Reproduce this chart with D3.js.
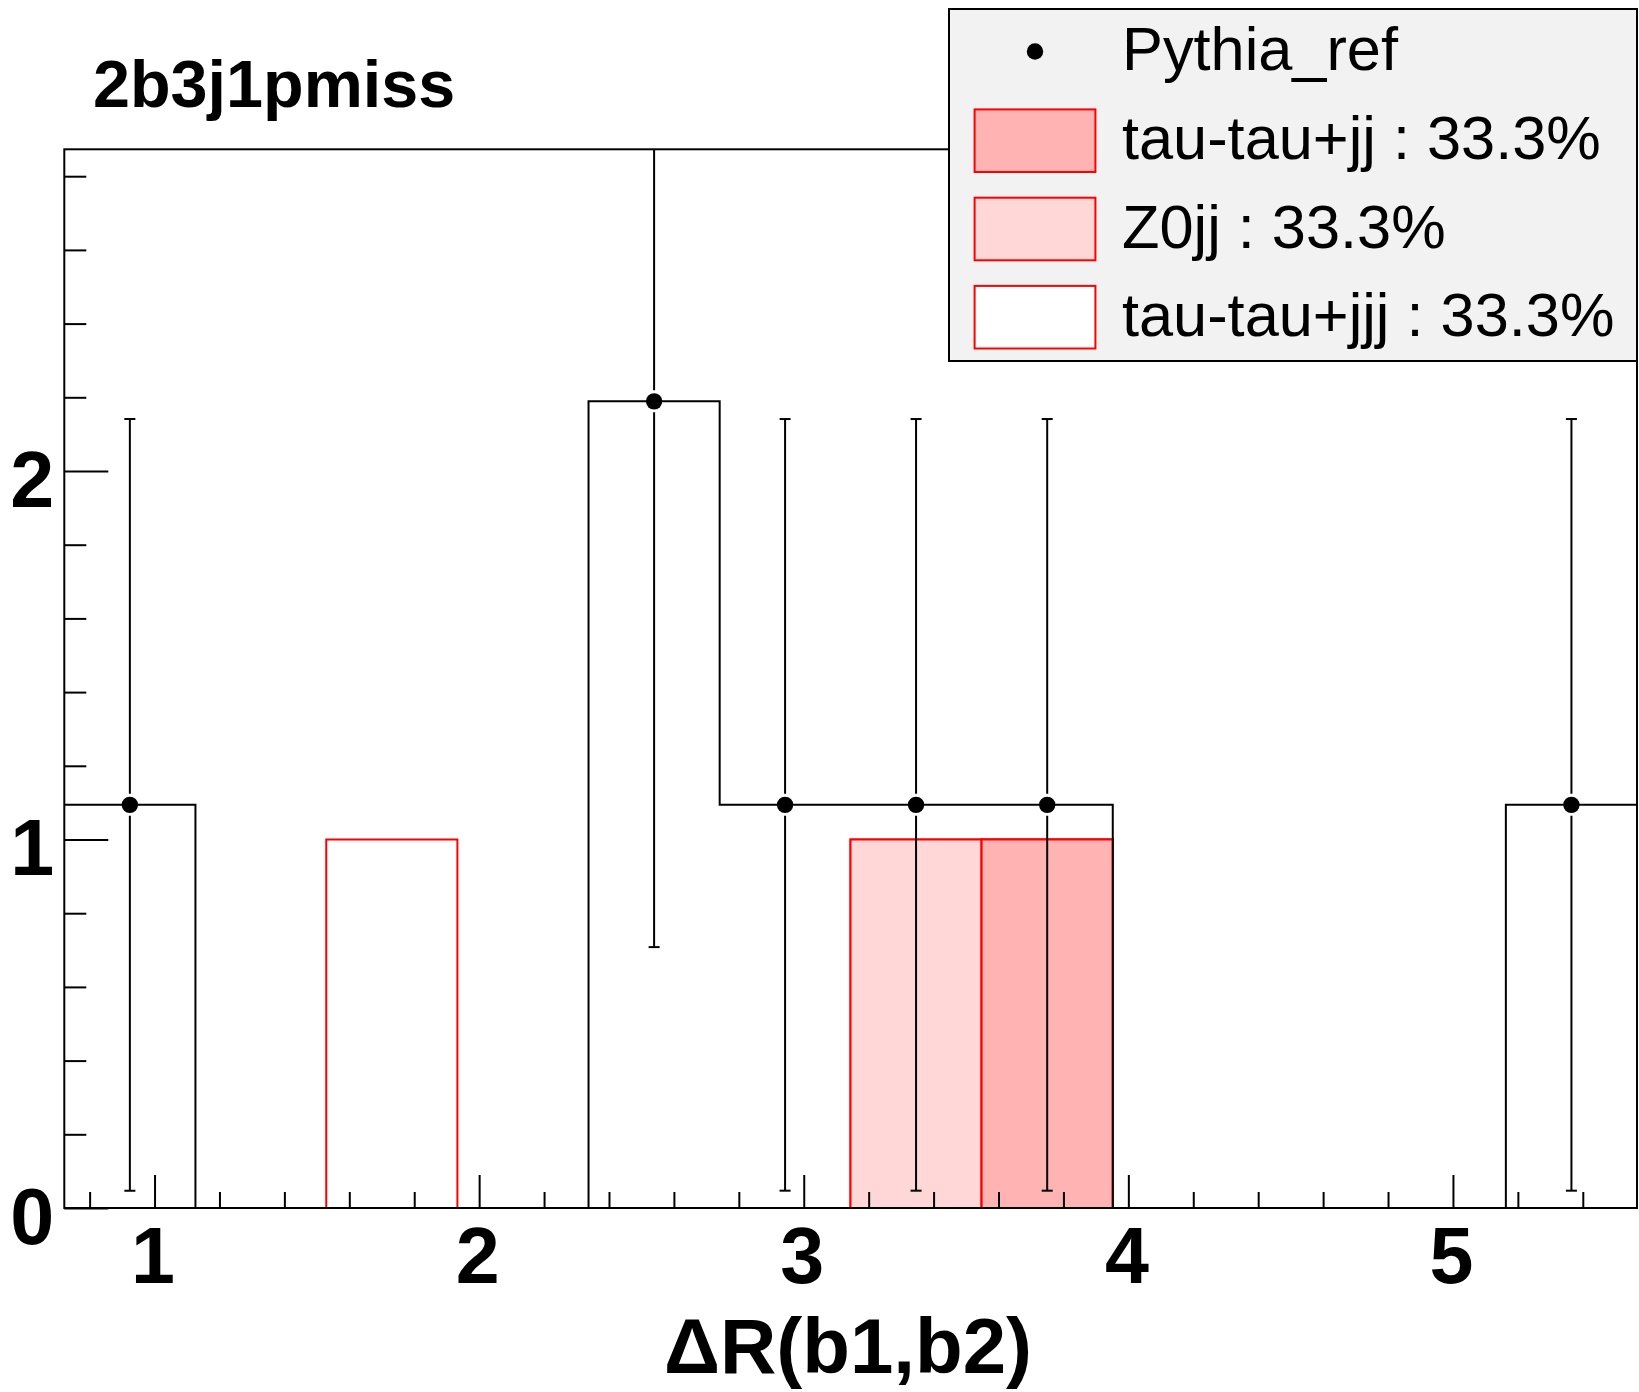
<!DOCTYPE html>
<html>
<head>
<meta charset="utf-8">
<script src="https://cdn.jsdelivr.net/npm/d3@7"></script>
<style>
  html, body { margin: 0; padding: 0; background: #fff; }
  svg { display: block; }
  text { font-family: "Liberation Sans", Arial, Helvetica, sans-serif; }
</style>
</head>
<body>
<svg id="chart" width="1639" height="1392"></svg>
<script>
// ---------------- data ----------------
const title = "2b3j1pmiss";
const xTitle = "\u0394R(b1,b2)";
const binEdges = [0.722, 1.126, 1.529, 1.933, 2.337, 2.741, 3.144, 3.548, 3.952, 4.356, 4.759, 5.163, 5.567];
const pythiaValues = [1.094, 0, 0, 0, 2.189, 1.094, 1.094, 1.094, 0, 0, 0, 1.094];
const pythiaErrors = [1.047, 0, 0, 0, 1.481, 1.047, 1.047, 1.047, 0, 0, 0, 1.047];
const tautaujj  = [0, 0, 0, 0, 0, 0, 0, 1, 0, 0, 0, 0];
const z0jj      = [0, 0, 0, 0, 0, 0, 1, 0, 0, 0, 0, 0];
const tautaujjj = [0, 0, 1, 0, 0, 0, 0, 0, 0, 0, 0, 0];
const yDomain = [0, 2.873];
const xMajorTicks = [1, 2, 3, 4, 5];
const xMinorTicks = [0.8, 1.2, 1.4, 1.6, 1.8, 2.2, 2.4, 2.6, 2.8, 3.2, 3.4, 3.6, 3.8, 4.2, 4.4, 4.6, 4.8, 5.2, 5.4];
const yMajorTicks = [0, 1, 2];
const yMinorTicks = [0.2, 0.4, 0.6, 0.8, 1.2, 1.4, 1.6, 1.8, 2.2, 2.4, 2.6, 2.8];
const legendEntries = [
  { label: "Pythia_ref", type: "marker" },
  { label: "tau-tau+jj : 33.3%", type: "box", fill: "#ffb3b3" },
  { label: "Z0jj : 33.3%", type: "box", fill: "#ffd7d7" },
  { label: "tau-tau+jjj : 33.3%", type: "box", fill: "#ffffff" }
];
const stackSeries = [
  { name: "tau-tau+jj", values: tautaujj, fill: "#ffb3b3" },
  { name: "Z0jj", values: z0jj, fill: "#ffd7d7" },
  { name: "tau-tau+jjj", values: tautaujjj, fill: "#ffffff" }
];

// ---------------- layout ----------------
const L = 64.3, R = 1637, T = 149.3, B = 1208;
const svg = d3.select("#chart");
const x = d3.scaleLinear().domain([binEdges[0], binEdges[binEdges.length - 1]]).range([L, R]);
const y = d3.scaleLinear().domain(yDomain).range([B, T]);

const plot = svg.append("g");
svg.append("defs").append("clipPath").attr("id", "clip")
  .append("rect").attr("x", L).attr("y", T).attr("width", R - L).attr("height", B - T);

// ---------------- stacked histograms ----------------
const nb = binEdges.length - 1;
const cum = stackSeries.map(() => new Array(nb).fill(0));
for (let b = 0; b < nb; b++) {
  let s = 0;
  for (let i = 0; i < stackSeries.length; i++) {
    s += stackSeries[i].values[b];
    cum[i][b] = s;
  }
}
for (let i = stackSeries.length - 1; i >= 0; i--) {
  const bars = d3.range(nb).filter(b => cum[i][b] > 0);
  plot.append("g").selectAll("rect").data(bars).join("rect")
    .attr("x", b => x(binEdges[b]))
    .attr("y", b => y(cum[i][b]))
    .attr("width", b => x(binEdges[b + 1]) - x(binEdges[b]))
    .attr("height", b => y(0) - y(cum[i][b]))
    .attr("fill", stackSeries[i].fill)
    .attr("stroke", "#ff0000")
    .attr("stroke-width", 2);
}

// ---------------- reference histogram (step line) ----------------
const stepPts = [];
for (let b = 0; b < nb; b++) {
  stepPts.push([x(binEdges[b]), y(pythiaValues[b])]);
  stepPts.push([x(binEdges[b + 1]), y(pythiaValues[b])]);
}
plot.append("path")
  .attr("d", d3.line()(stepPts))
  .attr("fill", "none")
  .attr("stroke", "#000")
  .attr("stroke-width", 2)
  .attr("clip-path", "url(#clip)");

// ---------------- error bars + markers ----------------
const pts = d3.range(nb).filter(b => pythiaValues[b] > 0);
const eb = plot.append("g").attr("clip-path", "url(#clip)");
const gap = 11;
pts.forEach(b => {
  const cx = x((binEdges[b] + binEdges[b + 1]) / 2);
  const cy = y(pythiaValues[b]);
  const yHi = y(pythiaValues[b] + pythiaErrors[b]);
  const yLo = y(Math.max(0, pythiaValues[b] - pythiaErrors[b]));
  eb.append("line").attr("x1", cx).attr("x2", cx).attr("y1", yHi).attr("y2", cy - gap)
    .attr("stroke", "#000").attr("stroke-width", 2);
  eb.append("line").attr("x1", cx).attr("x2", cx).attr("y1", cy + gap).attr("y2", yLo)
    .attr("stroke", "#000").attr("stroke-width", 2);
  eb.append("line").attr("x1", cx - 5.5).attr("x2", cx + 5.5).attr("y1", yHi).attr("y2", yHi)
    .attr("stroke", "#000").attr("stroke-width", 2);
  eb.append("line").attr("x1", cx - 5.5).attr("x2", cx + 5.5).attr("y1", yLo).attr("y2", yLo)
    .attr("stroke", "#000").attr("stroke-width", 2);
});
plot.append("g").selectAll("circle").data(pts).join("circle")
  .attr("cx", b => x((binEdges[b] + binEdges[b + 1]) / 2))
  .attr("cy", b => y(pythiaValues[b]))
  .attr("r", 8.2)
  .attr("fill", "#000");

// ---------------- frame & axes ----------------
svg.append("rect").attr("x", L).attr("y", T).attr("width", R - L).attr("height", B - T)
  .attr("fill", "none").attr("stroke", "#000").attr("stroke-width", 2);

const xAxisMajor = d3.axisBottom(x).tickValues(xMajorTicks).tickSize(-33).tickFormat(d3.format("d")).tickPadding(0);
const gx = svg.append("g").attr("transform", `translate(0,${B})`).call(xAxisMajor);
gx.select(".domain").remove();
gx.selectAll("line").attr("stroke", "#000").attr("stroke-width", 2);
gx.selectAll("text").attr("font-size", 79).attr("font-weight", "bold").attr("fill", "#000")
  .attr("y", 75).attr("dy", 0).attr("dx", -2);

const gxm = svg.append("g").attr("transform", `translate(0,${B})`)
  .call(d3.axisBottom(x).tickValues(xMinorTicks).tickSize(-16).tickFormat(""));
gxm.select(".domain").remove();
gxm.selectAll("line").attr("stroke", "#000").attr("stroke-width", 2);

const yAxisMajor = d3.axisLeft(y).tickValues(yMajorTicks).tickSize(-44).tickFormat(d3.format("d")).tickPadding(0);
const gy = svg.append("g").attr("transform", `translate(${L},0)`).call(yAxisMajor);
gy.select(".domain").remove();
gy.selectAll("line").attr("stroke", "#000").attr("stroke-width", 2);
gy.selectAll("text").attr("font-size", 79).attr("font-weight", "bold").attr("fill", "#000")
  .attr("x", -10).attr("dy", 35).attr("text-anchor", "end");

const gym = svg.append("g").attr("transform", `translate(${L},0)`)
  .call(d3.axisLeft(y).tickValues(yMinorTicks).tickSize(-22).tickFormat(""));
gym.select(".domain").remove();
gym.selectAll("line").attr("stroke", "#000").attr("stroke-width", 2);

// ---------------- titles ----------------
svg.append("text").attr("x", 93).attr("y", 107).attr("font-size", 66.5).attr("font-weight", "bold")
  .attr("fill", "#000").text(title);
svg.append("text").attr("x", 848).attr("y", 1373).attr("font-size", 78).attr("font-weight", "bold")
  .attr("text-anchor", "middle").attr("fill", "#000").text(xTitle);

// ---------------- legend ----------------
const lg = svg.append("g");
lg.append("rect").attr("x", 949).attr("y", 9).attr("width", 688).attr("height", 352)
  .attr("fill", "#f2f2f2").attr("stroke", "#000").attr("stroke-width", 2);
const rowC = [51.5, 140.7, 229, 317.2];
legendEntries.forEach((e, i) => {
  const cy = rowC[i];
  if (e.type === "marker") {
    lg.append("circle").attr("cx", 1035).attr("cy", cy).attr("r", 8.2).attr("fill", "#000");
  } else {
    lg.append("rect").attr("x", 974.6).attr("y", cy - 31.3).attr("width", 120.8).attr("height", 62.6)
      .attr("fill", e.fill).attr("stroke", "#ff0000").attr("stroke-width", 2);
  }
  lg.append("text").attr("x", 1122).attr("y", cy + 18.5).attr("font-size", 61.3)
    .attr("fill", "#000").text(e.label);
});
</script>
</body>
</html>
